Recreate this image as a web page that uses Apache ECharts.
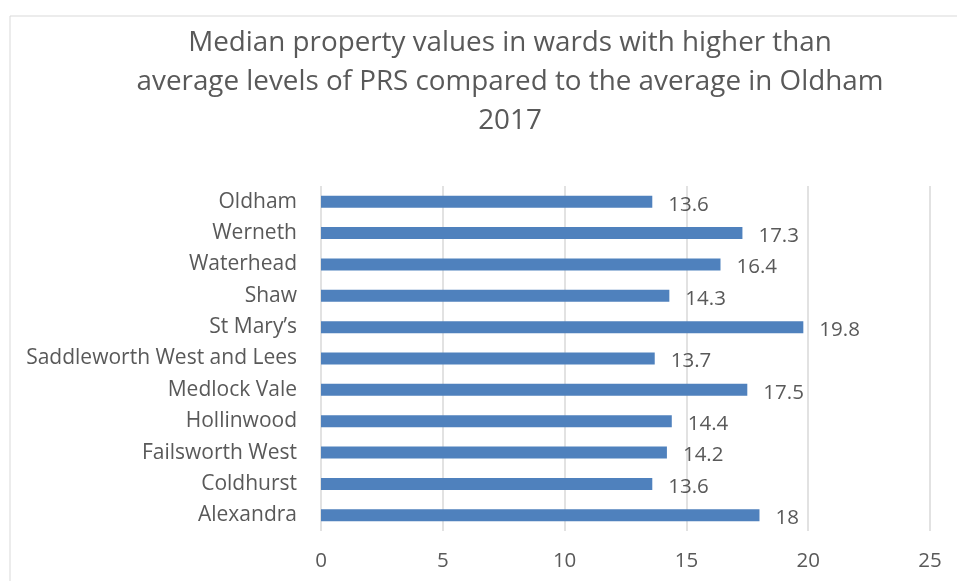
<!DOCTYPE html>
<html>
<head>
<meta charset="utf-8">
<script src="https://cdn.jsdelivr.net/npm/echarts@6/dist/echarts.min.js"></script>
<style>
  html, body { margin: 0; padding: 0; background: #fff; }
  #chart { width: 957px; height: 581px; }
</style>
</head>
<body>
<div id="chart"></div>
<script>
// wards, listed bottom to top as drawn
const wards = [
  'Alexandra', 'Coldhurst', 'Failsworth West', 'Hollinwood', 'Medlock Vale',
  'Saddleworth West and Lees', 'St Mary\u2019s', 'Shaw', 'Waterhead', 'Werneth', 'Oldham'
]
const medianValues = [18, 13.6, 14.2, 14.4, 17.5, 13.7, 19.8, 14.3, 16.4, 17.3, 13.6]
const titleText = 'Median property values in wards with higher than\naverage levels of PRS compared to the average in Oldham\n2017'

const textColor = '#595959'
const font = '"Open Sans", "Noto Sans", sans-serif'

const chart = echarts.init(document.getElementById('chart'))
chart.setOption({
  animation: false,
  graphic: [{
    type: 'rect',
    shape: { x: 10, y: 16, width: 1000, height: 700 },
    style: { fill: 'none', stroke: '#d9d9d9', lineWidth: 1 },
    silent: true
  }],
  title: {
    text: titleText,
    left: 505,
    top: 19,
    textAlign: 'center',
    textStyle: {
      color: textColor,
      fontFamily: font,
      fontWeight: 'normal',
      fontSize: 27.8,
      lineHeight: 39
    }
  },
  grid: { left: 321, right: 27, top: 186, bottom: 50, containLabel: false },
  xAxis: {
    type: 'value',
    min: 0,
    max: 25,
    interval: 5,
    axisLine: { show: false },
    axisTick: { show: false },
    axisLabel: { color: textColor, fontFamily: font, fontSize: 20.5, margin: 20 },
    splitLine: { show: true, lineStyle: { color: '#d9d9d9', width: 1.5 } }
  },
  yAxis: {
    type: 'category',
    data: wards,
    axisLine: { show: false },
    axisTick: { show: false },
    axisLabel: { color: textColor, fontFamily: font, fontSize: 21, margin: 24 }
  },
  series: [{
    type: 'bar',
    data: medianValues,
    barWidth: 12,
    itemStyle: { color: '#4f81bd' },
    label: {
      show: true,
      position: 'right',
      distance: 16,
      color: textColor,
      fontFamily: font,
      fontSize: 20.5,
      offset: [0, 3]
    }
  }]
})
</script>
</body>
</html>
